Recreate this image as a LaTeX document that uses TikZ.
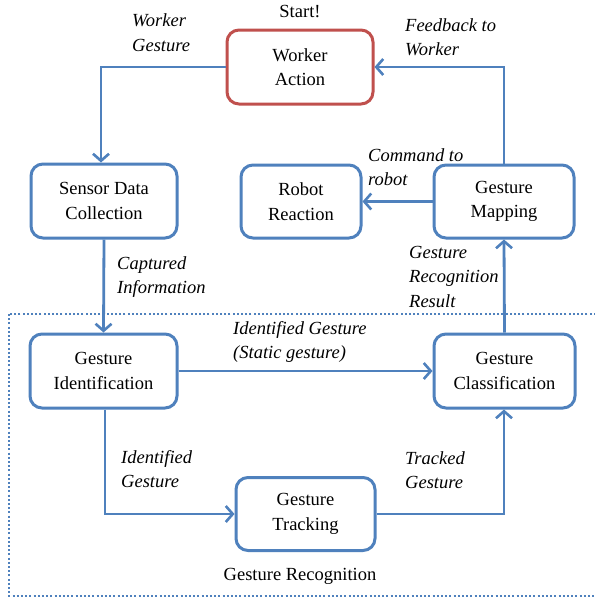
\documentclass[tikz,border=0pt]{standalone}
\usepackage{fontspec}
\setmainfont{Liberation Serif}
\usetikzlibrary{arrows.meta}
\definecolor{flowblue}{HTML}{4F81BD}
\definecolor{flowred}{HTML}{C0504D}
\begin{document}
\begin{tikzpicture}[x=1pt,y=-1pt,
  txt/.style={font=\fontsize{18.5}{24.5}\selectfont},
  stage/.style={draw=flowblue,line width=3pt,rounded corners=12pt,align=center,txt,inner sep=0pt},
  flow/.style={draw=flowblue,line width=2.8pt,-{Straight Barb[length=7pt,width=16pt,line width=2.6pt]}},
  lbl/.style={font=\fontsize{18.5}{24.5}\selectfont\itshape,align=left,anchor=west,inner sep=0pt}
]
\useasboundingbox (0,0) rectangle (595,598);
\fill[white] (0,0) rectangle (595,598);

% recognition stage frame
\draw[flowblue,line width=2.4pt,dash pattern=on 2pt off 2.2pt] (9,314) rectangle (600,596);
\node[txt] (grlabel) at (300,576.5) {Gesture Recognition};
\node[txt] (start) at (300,12) {Start!};

% stages
\node[stage,draw=flowred,minimum width=146pt,minimum height=74pt] (action) at (300,67) {Worker\\Action};
\node[stage,minimum width=146pt,minimum height=74pt] (sensor) at (104,201) {Sensor Data\\Collection};
\node[stage,minimum width=120pt,minimum height=73pt] (robot) at (301,201.5) {Robot\\Reaction};
\node[stage,minimum width=140pt,minimum height=73pt] (mapping) at (504,201.5) {Gesture\\Mapping};
\node[stage,minimum width=147pt,minimum height=74pt] (ident) at (103.5,371) {Gesture\\Identification};
\node[stage,minimum width=141pt,minimum height=74pt] (classif) at (504.5,371) {Gesture\\Classification};
\node[stage,minimum width=139pt,minimum height=73pt] (track) at (305.5,514) {Gesture\\Tracking};

% connectors
\coordinate (c1) at (101,67);
\draw[flow] (action.west) -- (c1) -- (c1 |- sensor.north);
\coordinate (c2) at (504,67);
\draw[flow] (mapping.north) -- (c2) -- (action.east);
\draw[flow] (mapping.west) -- (robot.east);
\draw[flow] (sensor.south) -- (ident.north);
\draw[flow] (ident.east) -- (classif.west);
\draw[flow] (classif.north) -- (mapping.south);
\coordinate (c3) at (105,514);
\draw[flow] (ident.south -| c3) -- (c3) -- (track.west);
\coordinate (c4) at (504,514);
\draw[flow] (track.east) -- (c4) -- (classif.south -| c4);

% connector labels
\node[lbl] (lwg) at (132,32.5) {Worker\\Gesture};
\node[lbl] (lfw) at (405,37) {Feedback to\\Worker};
\node[lbl] (lcr) at (368,167) {Command to\\robot};
\node[lbl] (lci) at (117,277) {Captured\\Information};
\node[lbl] (lgr) at (409,276.5) {Gesture\\Recognition\\Result};
\node[lbl] (lis) at (233,342) {Identified Gesture\\(Static gesture)};
\node[lbl] (lig) at (121,469) {Identified\\Gesture};
\node[lbl] (ltg) at (405,470) {Tracked\\Gesture};
\end{tikzpicture}
\end{document}
